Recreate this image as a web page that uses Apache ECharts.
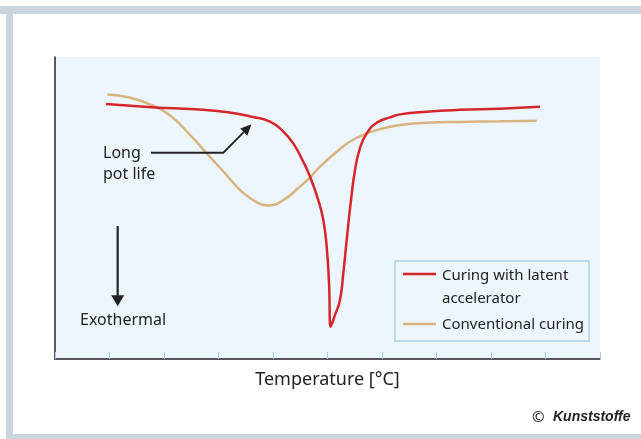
<!DOCTYPE html>
<html>
<head>
<meta charset="utf-8">
<script src="https://cdn.jsdelivr.net/npm/echarts@6/dist/echarts.min.js"></script>
<style>
html,body{margin:0;padding:0;background:#fff;}
#chart{width:641px;height:439px;}
</style>
</head>
<body>
<div id="chart"></div>
<script>
// Temperature axis in arbitrary units (ticks 0..10), heat flow in arbitrary units (0..100)
var xTicks = [0, 1, 2, 3, 4, 5, 6, 7, 8, 9, 10];
var seriesNames = ['Curing with latent\naccelerator', 'Conventional curing'];

var latentX = [0.936, 1.835, 2.569, 3.174, 3.615, 3.945, 4.189, 4.372, 4.556, 4.679, 4.831, 4.923, 4.985, 5.028, 5.059, 5.138, 5.229, 5.290, 5.352, 5.431, 5.505, 5.596, 5.719, 5.903, 6.147, 6.330, 6.820, 7.431, 8.165, 8.899];
var latentY = [84.4, 83.3, 82.7, 81.7, 80.2, 78.6, 75.3, 71.4, 65.3, 60.4, 52.6, 46.0, 37.2, 25.2, 10.7, 14.6, 19.5, 28.4, 39.4, 52.6, 62.6, 69.8, 74.7, 78.2, 80.0, 81.0, 81.9, 82.5, 82.9, 83.5];

var convX = [0.960, 1.345, 1.774, 2.141, 2.508, 2.813, 3.119, 3.426, 3.730, 3.914, 4.189, 4.495, 4.679, 4.862, 5.169, 5.413, 5.719, 6.024, 6.330, 6.820, 7.431, 8.165, 8.839];
var convY = [87.6, 86.7, 84.1, 80.2, 73.6, 67.5, 61.5, 55.4, 51.6, 50.8, 52.6, 57.1, 60.1, 63.7, 68.6, 72.0, 74.7, 76.4, 77.5, 78.2, 78.5, 78.7, 78.9];

function pairs(xs, ys) { return xs.map(function (x, i) { return [x, ys[i]]; }); }

var RED = '#d5262b';
var TAN = '#d7b480';
var FONT = 'Noto Sans';

var chart = echarts.init(document.getElementById('chart'), null, {renderer: 'canvas'});

chart.setOption({
  animation: false,
  backgroundColor: '#ffffff',
  textStyle: {fontFamily: FONT},
  grid: {left: 55, right: 41, top: 57, bottom: 80, show: true, backgroundColor: '#eef6fd', borderWidth: 0},
  xAxis: {
    type: 'value', min: xTicks[0], max: xTicks[xTicks.length - 1], interval: 1,
    name: 'Temperature [°C]', nameLocation: 'middle', nameGap: 12,
    nameTextStyle: {fontFamily: FONT, fontSize: 18, color: '#222', verticalAlign: 'top'},
    axisLine: {show: true, onZero: false, lineStyle: {color: '#222', width: 1.5}},
    axisTick: {show: true, inside: true, length: 7, lineStyle: {color: '#a6d0ec', width: 1}},
    axisLabel: {show: false},
    splitLine: {show: false}
  },
  yAxis: {
    type: 'value', min: 0, max: 100,
    axisLine: {show: true, onZero: false, lineStyle: {color: '#222', width: 1.5}},
    axisTick: {show: false}, axisLabel: {show: false}, splitLine: {show: false}
  },
  series: [
    {name: seriesNames[1], type: 'line', data: pairs(convX, convY), smooth: 0.45, showSymbol: false, z: 2,
     lineStyle: {color: TAN, width: 2.5}},
    {name: seriesNames[0], type: 'line', data: pairs(latentX, latentY), smooth: 0.5, showSymbol: false, z: 3,
     lineStyle: {color: RED, width: 2.5}}
  ]
});

function px(x, y) { return chart.convertToPixel({gridIndex: 0}, [x, y]); }

// annotation anchors in data coordinates
var lpA = px(1.761, 68.3), lpB = px(3.088, 68.3), lpTip = px(3.606, 77.7);
var exTop = px(1.150, 44.0), exTip = px(1.150, 17.5);

// arrowhead for long pot life
var dx = lpTip[0] - lpB[0], dy = lpTip[1] - lpB[1];
var len = Math.sqrt(dx * dx + dy * dy), ux = dx / len, uy = dy / len;
var hl = 11, hw = 5;
var base = [lpTip[0] - ux * hl, lpTip[1] - uy * hl];
var head1 = [[lpTip[0], lpTip[1]], [base[0] - uy * hw, base[1] + ux * hw], [base[0] + uy * hw, base[1] - ux * hw]];

chart.setOption({
  graphic: [
    // frame
    {type: 'rect', shape: {x: 0, y: 6, width: 641, height: 8}, style: {fill: '#cdd5dc'}, silent: true},
    {type: 'rect', shape: {x: 6, y: 6, width: 7, height: 433}, style: {fill: '#cdd5dc'}, silent: true},
    {type: 'rect', shape: {x: 6, y: 434, width: 635, height: 5}, style: {fill: '#cdd5dc'}, silent: true},
    // long pot life annotation
    {type: 'text', left: 103, top: 143, style: {text: 'Long\npot life', font: '16px "Noto Sans"', fill: '#222', lineHeight: 21}, z: 10},
    {type: 'polyline', shape: {points: [lpA, lpB, base]}, style: {stroke: '#222', lineWidth: 1.8, fill: null}, z: 10},
    {type: 'polygon', shape: {points: head1}, style: {fill: '#222'}, z: 10},
    // exothermal arrow
    {type: 'line', shape: {x1: exTop[0], y1: exTop[1], x2: exTip[0], y2: exTip[1] - 10}, style: {stroke: '#222', lineWidth: 2.2}, z: 10},
    {type: 'polygon', shape: {points: [[exTip[0], exTip[1]], [exTip[0] - 6.5, exTip[1] - 11], [exTip[0] + 6.5, exTip[1] - 11]]}, style: {fill: '#222'}, z: 10},
    {type: 'text', left: 80, top: 312, style: {text: 'Exothermal', font: '16px "Noto Sans"', fill: '#222'}, z: 10},
    // legend
    {type: 'rect', shape: {x: 395, y: 261, width: 194, height: 80}, style: {fill: '#eef6fd', stroke: '#bcd8f1', lineWidth: 2}, z: 20},
    {type: 'line', shape: {x1: 403, y1: 274, x2: 436, y2: 274}, style: {stroke: RED, lineWidth: 2.5}, z: 21},
    {type: 'line', shape: {x1: 403, y1: 324, x2: 436, y2: 324}, style: {stroke: TAN, lineWidth: 2.5}, z: 21},
    {type: 'text', left: 442, top: 264, style: {text: seriesNames[0], font: '15px "Noto Sans"', fill: '#222', lineHeight: 23}, z: 21},
    {type: 'text', left: 442, top: 317, style: {text: seriesNames[1], font: '15px "Noto Sans"', fill: '#222'}, z: 21},
    // credit
    {type: 'text', left: 532, top: 410, style: {text: '©', font: '15px "Noto Sans"', fill: '#222'}, z: 10},
    {type: 'text', left: 553, top: 410, style: {text: 'Kunststoffe', font: 'italic bold 14px "Liberation Sans"', fill: '#222'}, z: 10}
  ]
});
</script>
</body>
</html>
